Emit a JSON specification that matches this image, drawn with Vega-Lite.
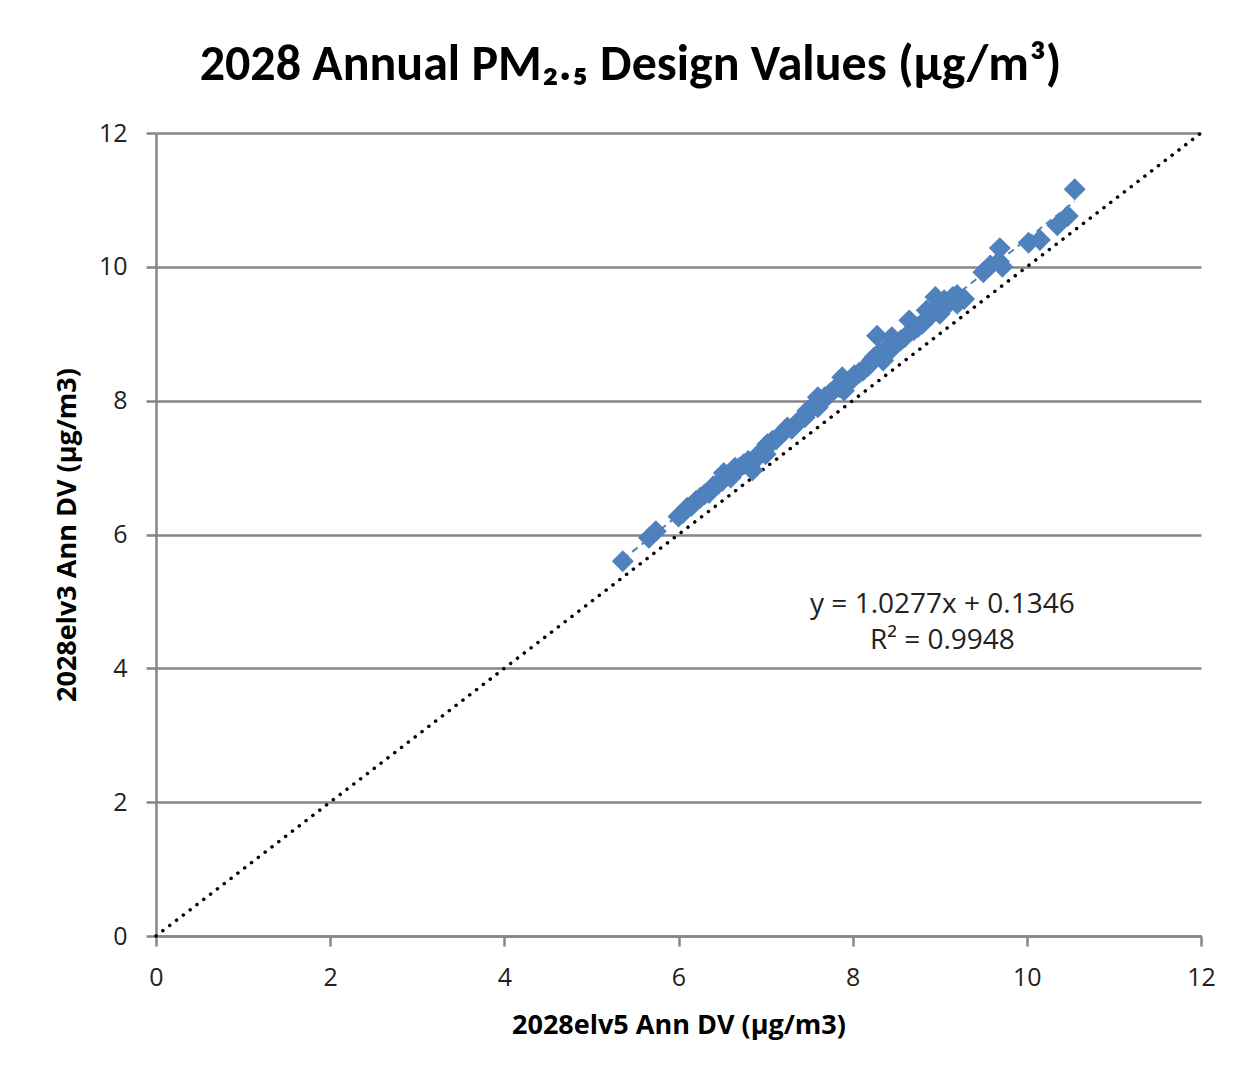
{
  "$schema": "https://vega.github.io/schema/vega-lite/v6.json",
  "autosize": {"type": "none"},
  "width": 1045,
  "height": 803,
  "padding": {"left": 156, "top": 133, "right": 47, "bottom": 140},
  "background": "white",
  "title": {
    "text": "2028 Annual PM₂.₅ Design Values (µg/m³)",
    "font": "Carlito, Lato, Open Sans",
    "fontSize": 50,
    "fontWeight": "bold",
    "color": "#000000",
    "anchor": "middle",
    "dx": -48,
    "offset": 31
  },
  "config": {
    "view": {"stroke": null},
    "axis": {
      "labelFont": "Open Sans",
      "titleFont": "Open Sans",
      "labelFontSize": 25,
      "labelColor": "#222222",
      "titleFontSize": 27,
      "titleFontWeight": "bold",
      "titleColor": "#000000",
      "domainColor": "#868686",
      "domainWidth": 2.5,
      "tickColor": "#868686",
      "tickWidth": 2.5,
      "tickSize": 10,
      "gridColor": "#868686",
      "gridWidth": 2.5,
      "labelFlush": false,
      "format": "d"
    }
  },
  "datasets": {
    "points": [
      {"elv5": 5.36, "elv3": 5.60}, {"elv5": 5.66, "elv3": 5.95}, {"elv5": 5.74, "elv3": 6.05},
      {"elv5": 6.00, "elv3": 6.27}, {"elv5": 6.05, "elv3": 6.32}, {"elv5": 6.10, "elv3": 6.40},
      {"elv5": 6.15, "elv3": 6.43}, {"elv5": 6.20, "elv3": 6.50}, {"elv5": 6.25, "elv3": 6.55},
      {"elv5": 6.30, "elv3": 6.60}, {"elv5": 6.35, "elv3": 6.62}, {"elv5": 6.40, "elv3": 6.72},
      {"elv5": 6.45, "elv3": 6.75}, {"elv5": 6.50, "elv3": 6.80}, {"elv5": 6.52, "elv3": 6.92},
      {"elv5": 6.58, "elv3": 6.90}, {"elv5": 6.62, "elv3": 6.95}, {"elv5": 6.65, "elv3": 7.00},
      {"elv5": 6.70, "elv3": 7.00}, {"elv5": 6.75, "elv3": 7.05}, {"elv5": 6.80, "elv3": 7.10},
      {"elv5": 6.85, "elv3": 6.96}, {"elv5": 6.88, "elv3": 7.12}, {"elv5": 6.92, "elv3": 7.20},
      {"elv5": 6.98, "elv3": 7.25}, {"elv5": 7.02, "elv3": 7.35}, {"elv5": 7.08, "elv3": 7.40},
      {"elv5": 7.12, "elv3": 7.42}, {"elv5": 7.18, "elv3": 7.50}, {"elv5": 7.22, "elv3": 7.55},
      {"elv5": 7.25, "elv3": 7.60}, {"elv5": 7.30, "elv3": 7.58}, {"elv5": 7.35, "elv3": 7.65},
      {"elv5": 7.40, "elv3": 7.72}, {"elv5": 7.45, "elv3": 7.75}, {"elv5": 7.48, "elv3": 7.85},
      {"elv5": 7.52, "elv3": 7.88}, {"elv5": 7.55, "elv3": 7.92}, {"elv5": 7.60, "elv3": 7.90},
      {"elv5": 7.63, "elv3": 7.98}, {"elv5": 7.68, "elv3": 8.05}, {"elv5": 7.72, "elv3": 8.08},
      {"elv5": 7.75, "elv3": 8.12}, {"elv5": 7.80, "elv3": 8.18}, {"elv5": 7.85, "elv3": 8.20},
      {"elv5": 7.88, "elv3": 8.35}, {"elv5": 7.92, "elv3": 8.28}, {"elv5": 7.98, "elv3": 8.30},
      {"elv5": 8.02, "elv3": 8.38}, {"elv5": 8.08, "elv3": 8.42}, {"elv5": 8.12, "elv3": 8.45},
      {"elv5": 8.18, "elv3": 8.52}, {"elv5": 8.22, "elv3": 8.60}, {"elv5": 8.25, "elv3": 8.65},
      {"elv5": 8.28, "elv3": 8.97}, {"elv5": 8.30, "elv3": 8.70}, {"elv5": 8.35, "elv3": 8.72},
      {"elv5": 8.40, "elv3": 8.80}, {"elv5": 8.45, "elv3": 8.78}, {"elv5": 8.50, "elv3": 8.85},
      {"elv5": 8.55, "elv3": 8.90}, {"elv5": 8.60, "elv3": 8.95}, {"elv5": 8.65, "elv3": 9.20},
      {"elv5": 8.70, "elv3": 9.05}, {"elv5": 8.75, "elv3": 9.10}, {"elv5": 8.80, "elv3": 9.15},
      {"elv5": 8.85, "elv3": 9.22}, {"elv5": 8.90, "elv3": 9.28}, {"elv5": 8.95, "elv3": 9.35},
      {"elv5": 9.00, "elv3": 9.42}, {"elv5": 9.05, "elv3": 9.50}, {"elv5": 9.10, "elv3": 9.45},
      {"elv5": 9.15, "elv3": 9.55}, {"elv5": 9.20, "elv3": 9.58}, {"elv5": 9.28, "elv3": 9.52},
      {"elv5": 9.50, "elv3": 9.92}, {"elv5": 9.58, "elv3": 10.02}, {"elv5": 9.69, "elv3": 10.28},
      {"elv5": 9.72, "elv3": 10.00}, {"elv5": 9.68, "elv3": 10.08}, {"elv5": 10.02, "elv3": 10.36},
      {"elv5": 10.15, "elv3": 10.40}, {"elv5": 10.35, "elv3": 10.62}, {"elv5": 10.47, "elv3": 10.76},
      {"elv5": 10.55, "elv3": 11.16},
      {"elv5": 6.60, "elv3": 6.85}, {"elv5": 7.00, "elv3": 7.20}, {"elv5": 7.60, "elv3": 8.05},
      {"elv5": 7.90, "elv3": 8.15}, {"elv5": 8.35, "elv3": 8.60}, {"elv5": 8.45, "elv3": 8.95},
      {"elv5": 8.85, "elv3": 9.35}, {"elv5": 9.00, "elv3": 9.30}, {"elv5": 8.95, "elv3": 9.55},
      {"elv5": 9.20, "elv3": 9.45}
    ],
    "oneToOne": [
      {"elv5": 0, "elv3": 0},
      {"elv5": 12, "elv3": 12}
    ],
    "notes": [
      {"line": "y = 1.0277x + 0.1346", "px": 9.03, "py": 4.95},
      {"line": "R² = 0.9948", "px": 9.03, "py": 4.41}
    ]
  },
  "layer": [
    {
      "data": {"name": "oneToOne"},
      "mark": {"type": "line", "color": "#000000", "strokeWidth": 3.5, "strokeDash": [0.1, 8.5], "strokeCap": "round"},
      "encoding": {
        "x": {
          "field": "elv5", "type": "quantitative",
          "scale": {"domain": [0, 12], "nice": false, "zero": true},
          "axis": {"values": [0, 2, 4, 6, 8, 10, 12], "grid": false, "title": "2028elv5 Ann DV (µg/m3)", "labelPadding": 19, "titlePadding": 22}
        },
        "y": {
          "field": "elv3", "type": "quantitative",
          "scale": {"domain": [0, 12], "nice": false, "zero": true},
          "axis": {"values": [0, 2, 4, 6, 8, 10, 12], "grid": true, "title": "2028elv3 Ann DV (µg/m3)", "labelPadding": 19, "titlePadding": 17}
        }
      }
    },
    {
      "data": {"name": "points"},
      "mark": {"type": "point", "shape": "diamond", "filled": true, "size": 480, "color": "#4F81BD", "opacity": 1},
      "encoding": {
        "x": {"field": "elv5", "type": "quantitative"},
        "y": {"field": "elv3", "type": "quantitative"}
      }
    },
    {
      "data": {"name": "points"},
      "transform": [{"regression": "elv3", "on": "elv5", "method": "linear"}],
      "mark": {"type": "line", "color": "#4F81BD", "strokeWidth": 2, "strokeDash": [7, 5]},
      "encoding": {
        "x": {"field": "elv5", "type": "quantitative"},
        "y": {"field": "elv3", "type": "quantitative"}
      }
    },
    {
      "data": {"name": "notes"},
      "mark": {"type": "text", "font": "Open Sans", "fontSize": 28, "color": "#222222", "align": "center", "baseline": "middle"},
      "encoding": {
        "x": {"field": "px", "type": "quantitative"},
        "y": {"field": "py", "type": "quantitative"},
        "text": {"field": "line"}
      }
    }
  ]
}
